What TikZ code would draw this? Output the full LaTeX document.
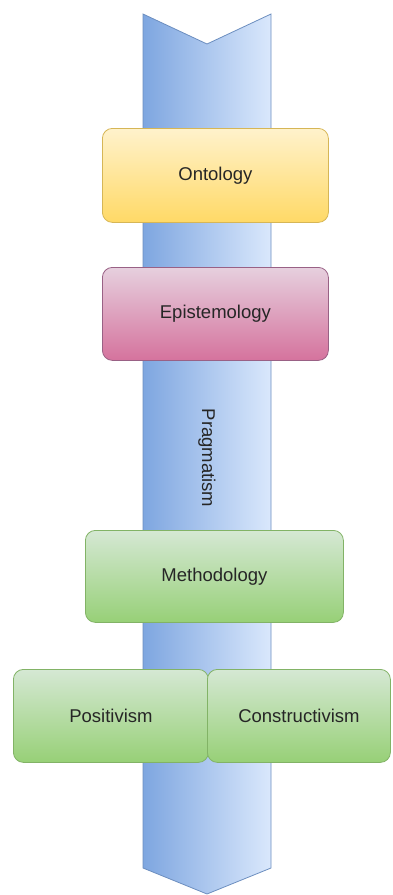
\documentclass[tikz,border=0pt]{standalone}
\usepackage{fontspec}
\setmainfont{Liberation Sans}
\definecolor{arrowL}{HTML}{7EA6E0}
\definecolor{arrowR}{HTML}{DAE8FC}
\definecolor{arrowB}{HTML}{6C8EBF}
\definecolor{yelT}{HTML}{FFF2CC}
\definecolor{yelB}{HTML}{FFD966}
\definecolor{yelD}{HTML}{D6B656}
\definecolor{pinkT}{HTML}{E6D0DE}
\definecolor{pinkB}{HTML}{D5739D}
\definecolor{pinkD}{HTML}{996185}
\definecolor{grnT}{HTML}{D5E8D4}
\definecolor{grnB}{HTML}{97D077}
\definecolor{grnD}{HTML}{82B366}
\tikzset{
  box/.style={rounded corners=10pt, line width=0.8pt, text=black!85,
    font=\fontsize{18.5}{22}\selectfont, anchor=north west, inner sep=0pt},
  yellowbox/.style={box, draw=yelD, top color=yelT, bottom color=yelB},
  pinkbox/.style={box, draw=pinkD, top color=pinkT, bottom color=pinkB},
  greenbox/.style={box, draw=grnD, top color=grnT, bottom color=grnB},
}
\begin{document}
\begin{tikzpicture}[x=1pt,y=-1pt]
\useasboundingbox (0,0) rectangle (392,895);
% the vertical arrow running through the stack
\path[draw=arrowB, line width=0.8pt, left color=arrowL, right color=arrowR]
  (143,14) -- (207,44) -- (271,14) -- (271,868) -- (207,894) -- (143,868) -- cycle;
\node[rotate=-90, font=\fontsize{18.5}{22}\selectfont, text=black!85] (prag) at (207,458) {Pragmatism};
% layers
\node[yellowbox, minimum width=226pt, minimum height=94pt] (onto) at (102,128) {Ontology};
\node[pinkbox, minimum width=226pt, minimum height=93pt] (epis) at (102,267) {Epistemology};
\node[greenbox, minimum width=258pt, minimum height=92pt] (meth) at (85,530) {Methodology};
\node[greenbox, minimum width=195pt, minimum height=93pt] (posi) at (13,669) {Positivism};
\node[greenbox, minimum width=183pt, minimum height=93pt] (cons) at (207,669) {Constructivism};
\end{tikzpicture}
\end{document}
